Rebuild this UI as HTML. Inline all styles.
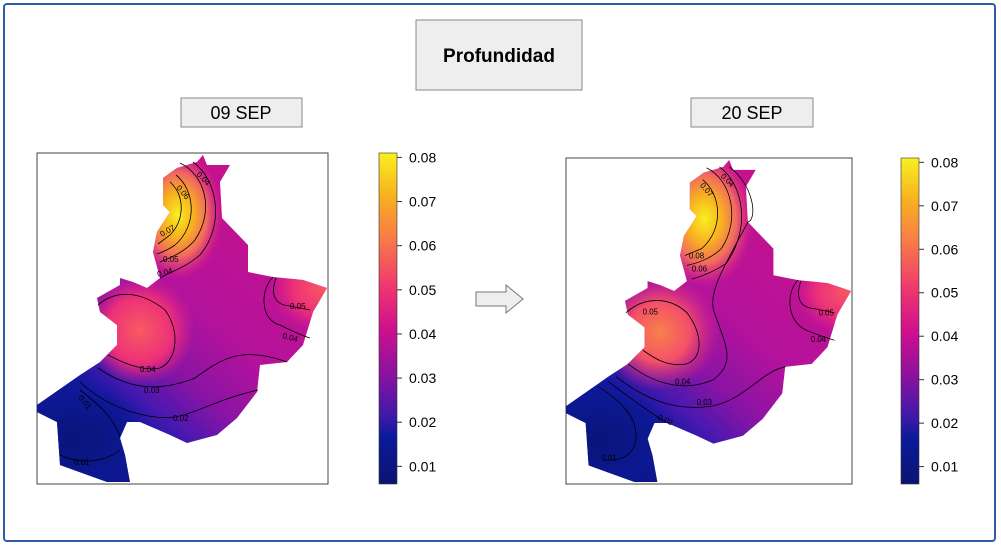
<!DOCTYPE html>
<html><head><meta charset="utf-8"><style>
body{margin:0;background:#fff;font-family:"Liberation Sans",sans-serif}
</style></head><body>
<svg width="1001" height="548" viewBox="0 0 1001 548" xmlns="http://www.w3.org/2000/svg" font-family="Liberation Sans, sans-serif">
<defs>
<linearGradient id="cbar" x1="0" y1="1" x2="0" y2="0">
<stop offset="0" stop-color="#0c1470"/><stop offset="0.14" stop-color="#0a1a9a"/><stop offset="0.2" stop-color="#3a1aa8"/>
<stop offset="0.33" stop-color="#8a12a0"/><stop offset="0.47" stop-color="#d0108c"/><stop offset="0.6" stop-color="#f0386e"/>
<stop offset="0.74" stop-color="#f87a48"/><stop offset="0.87" stop-color="#f8b020"/><stop offset="1" stop-color="#f8f020"/>
</linearGradient>
<linearGradient id="base" x1="0.8" y1="0.2" x2="0.2" y2="0.95">
<stop offset="0" stop-color="#c4128e"/><stop offset="0.38" stop-color="#b4129c"/><stop offset="0.58" stop-color="#8a14a4"/><stop offset="0.72" stop-color="#4a18b0"/><stop offset="0.82" stop-color="#1418a0"/><stop offset="1" stop-color="#0a1480"/>
</linearGradient>
<radialGradient id="yel"><stop offset="0" stop-color="#f8f020"/><stop offset="0.35" stop-color="#f8b020"/><stop offset="0.65" stop-color="#f06860"/><stop offset="1" stop-color="#e02088" stop-opacity="0"/></radialGradient>
<radialGradient id="pink"><stop offset="0" stop-color="#f85a62"/><stop offset="0.6" stop-color="#ec3078"/><stop offset="1" stop-color="#e0208a" stop-opacity="0"/></radialGradient>
<radialGradient id="orng"><stop offset="0" stop-color="#f8804a"/><stop offset="0.5" stop-color="#f45068"/><stop offset="1" stop-color="#e0208a" stop-opacity="0"/></radialGradient>
<radialGradient id="navy"><stop offset="0" stop-color="#0a147a"/><stop offset="0.65" stop-color="#0c1890"/><stop offset="1" stop-color="#1018a0" stop-opacity="0"/></radialGradient>
<clipPath id="shape"><polygon id="poly" points="203,155 207,165 230,165 220,182 222,218 248,245 248,272 273,277 303,280 327,288 313,312 303,345 287,362 260,365 257,392 237,418 217,435 187,443 170,435 140,422 127,422 120,438 125,455 130,482 107,482 60,465 57,422 37,412 37,405 80,375 100,362 117,345 117,325 100,312 97,298 120,285 120,278 133,282 147,288 160,278 153,252 157,232 170,212 163,205 163,178 177,168 197,162"/></clipPath>
</defs>
<rect x="4" y="4" width="991" height="537" rx="3" fill="none" stroke="#2e5ca8" stroke-width="2"/>
<rect x="416" y="20" width="166" height="70" fill="#eeeeee" stroke="#888"/>
<text x="499" y="62" text-anchor="middle" font-size="19" font-weight="bold">Profundidad</text>
<rect x="181" y="98" width="121" height="29" fill="#eeeeee" stroke="#888"/>
<text x="241" y="119" text-anchor="middle" font-size="18">09 SEP</text>
<rect x="691" y="98" width="122" height="29" fill="#eeeeee" stroke="#888"/>
<text x="752" y="119" text-anchor="middle" font-size="18">20 SEP</text>
<path d="M476,292 H506 V285 L523,299 L506,313 V306 H476 Z" fill="#eee" stroke="#777"/>

<g id="mapL">
<rect x="37" y="153" width="291" height="331" fill="#fff" stroke="#444"/>
<g clip-path="url(#shape)">
<rect x="37" y="153" width="291" height="331" fill="url(#base)"/>
<ellipse cx="178" cy="215" rx="45" ry="65" fill="url(#yel)"/>
<ellipse cx="140" cy="330" rx="55" ry="55" fill="url(#pink)"/>
<ellipse cx="325" cy="288" rx="55" ry="45" fill="url(#pink)"/>
<ellipse cx="75" cy="440" rx="80" ry="60" fill="url(#navy)"/>
</g>
<g fill="none" stroke="#000" stroke-width="0.8">
<path d="M180,163 C205,175 215,210 195,240 C185,252 170,258 160,262"/>
<path d="M176,175 C195,190 198,225 175,245 C168,250 163,252 157,254"/>
<path d="M170,182 C185,195 185,220 170,235 L158,244"/>
<path d="M193,162 C218,180 225,225 200,255 C185,268 170,272 160,278"/>
<path d="M98,305 C115,290 140,290 165,310 C180,330 178,360 160,368 C140,372 118,360 108,355"/>
<path d="M273,277 C260,290 260,320 280,325 C290,330 300,335 310,338"/>
<path d="M276,278 C270,295 275,305 290,306 L310,310"/>
<path d="M98,368 C130,390 160,392 195,378 C220,360 240,345 287,362"/>
<path d="M80,382 C110,410 150,420 175,417 C200,412 215,400 258,390"/>
<path d="M80,390 C100,405 115,420 120,437"/>
<path d="M60,455 C80,465 105,462 120,450"/>
</g>
<g font-size="8" fill="#000">
<text x="176" y="188" transform="rotate(50 176 188)">0.06</text>
<text x="196" y="175" transform="rotate(45 196 175)">0.04</text>
<text x="162" y="237" transform="rotate(-30 162 237)">0.07</text>
<text x="163" y="262">0.05</text>
<text x="158" y="277" transform="rotate(-15 158 277)">0.04</text>
<text x="290" y="309">0.05</text>
<text x="282" y="338" transform="rotate(15 282 338)">0.04</text>
<text x="140" y="372">0.04</text>
<text x="144" y="393">0.03</text>
<text x="173" y="421">0.02</text>
<text x="78" y="398" transform="rotate(50 78 398)">0.01</text>
<text x="74" y="465">0.01</text>
</g>
</g>

<g>
<rect x="566" y="158" width="286" height="326" fill="#fff" stroke="#444"/>
<g transform="translate(566,158) scale(0.983,0.985) translate(-37,-153)">
<g clip-path="url(#shape)">
<rect x="37" y="153" width="291" height="331" fill="url(#base)"/>
<ellipse cx="178" cy="215" rx="50" ry="70" fill="url(#yel)"/>
<ellipse cx="132" cy="330" rx="62" ry="60" fill="url(#orng)"/>
<ellipse cx="325" cy="288" rx="55" ry="45" fill="url(#pink)"/>
<ellipse cx="70" cy="440" rx="80" ry="60" fill="url(#navy)"/>
</g>
<g fill="none" stroke="#000" stroke-width="0.8">
<path d="M180,163 C205,175 215,215 195,245 C185,255 170,260 160,262"/>
<path d="M176,175 C195,190 198,225 175,245 L158,252"/>
<path d="M193,162 C218,180 225,225 200,260 C185,270 172,274 165,276"/>
<path d="M203,162 C228,180 232,215 222,218 C200,260 180,290 188,310 C200,345 210,360 187,378"/>
<path d="M98,310 C115,295 140,292 160,310 C175,330 178,355 160,362 C140,366 125,355 115,348"/>
<path d="M273,277 C260,290 262,320 282,328 C292,332 300,335 310,338"/>
<path d="M276,278 C270,295 275,305 290,306 L310,310"/>
<path d="M100,362 C130,385 160,390 187,378"/>
<path d="M88,375 C120,400 150,410 185,405 C220,398 235,370 260,365"/>
<path d="M80,380 C100,395 120,410 140,422"/>
<path d="M70,385 C100,405 110,420 108,440 C105,455 95,460 75,460"/>
</g>
<g font-size="8" fill="#000">
<text x="173" y="181" transform="rotate(50 173 181)">0.07</text>
<text x="194" y="172" transform="rotate(45 194 172)">0.04</text>
<text x="162" y="255">0.08</text>
<text x="165" y="268">0.06</text>
<text x="115" y="312">0.05</text>
<text x="294" y="313">0.05</text>
<text x="286" y="340">0.04</text>
<text x="148" y="383">0.04</text>
<text x="170" y="404">0.03</text>
<text x="130" y="418" transform="rotate(25 130 418)">0.02</text>
<text x="73" y="460">0.01</text>
</g>
</g>
</g>

<g id="cbars"></g>
</svg>
<script>
const tickValues = [0.01, 0.02, 0.03, 0.04, 0.05, 0.06, 0.07, 0.08];
const tickLabels = ["0.01","0.02","0.03","0.04","0.05","0.06","0.07","0.08"];
const rangeMin = 0.006, rangeMax = 0.081;
const bars = [{x:379, top:153, bottom:484, name:'colorbar-left'},{x:901, top:158, bottom:484, name:'colorbar-right'}];
const NS = 'http://www.w3.org/2000/svg';
const g = document.getElementById('cbars');
bars.forEach(b => {
  const y = v => b.bottom - (v - rangeMin) / (rangeMax - rangeMin) * (b.bottom - b.top);
  const r = document.createElementNS(NS, 'rect');
  
  
  r.setAttribute('x', b.x); r.setAttribute('y', b.top);
  r.setAttribute('width', 18); r.setAttribute('height', b.bottom - b.top);
  r.setAttribute('fill', 'url(#cbar)'); r.setAttribute('stroke', '#333'); r.setAttribute('stroke-width', '0.6');
  g.appendChild(r);
  tickValues.forEach((v, i) => {
    const l = document.createElementNS(NS, 'line');
    
    
    l.setAttribute('x1', b.x + 18); l.setAttribute('x2', b.x + 23);
    l.setAttribute('y1', y(v)); l.setAttribute('y2', y(v));
    l.setAttribute('stroke', '#333');
    g.appendChild(l);
    const t = document.createElementNS(NS, 'text');
    
    
    t.setAttribute('x', b.x + 30); t.setAttribute('y', y(v) + 5);
    t.setAttribute('font-size', '14');
    t.textContent = tickLabels[i];
    g.appendChild(t);
  });
});
</script>
</body></html>
